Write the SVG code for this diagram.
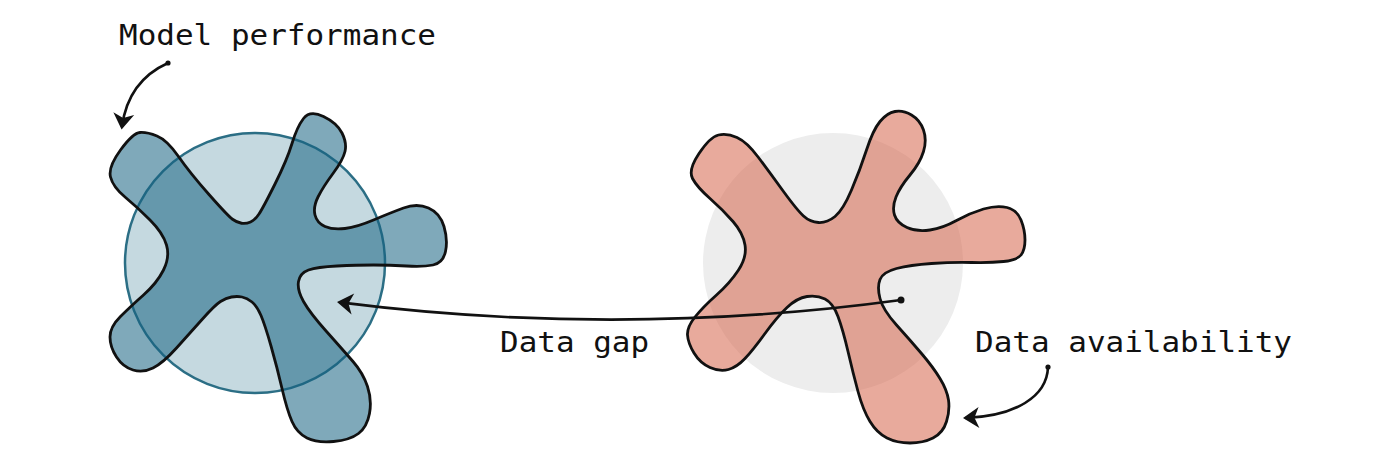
<svg xmlns="http://www.w3.org/2000/svg" width="1400" height="467" viewBox="0 0 1400 467">
<defs>
<style>
.lbl{font-family:"DejaVu Sans Mono","Liberation Mono",monospace;font-size:28px;fill:#111}
.outline{stroke:#111;stroke-width:2.8;stroke-linejoin:round}
.conn{fill:none;stroke:#111;stroke-width:2.6;stroke-linecap:round}
.cap{fill:#111}
</style>
<marker id="ah" viewBox="-17 -12 20 24" markerWidth="20" markerHeight="24" refX="-3" refY="0" orient="auto" markerUnits="userSpaceOnUse">
<path d="M0,0 L-16,-10.5 L-11.5,0 L-16,10.5 Z" fill="#111"/>
</marker>
</defs>
<rect width="1400" height="467" fill="#fff"/>
<g id="model-performance">
<circle cx="255" cy="263" r="130" fill="#c5d9e0" stroke="#2b6e85" stroke-width="2.5"/>
<path class="outline" fill="#156282" fill-opacity="0.55" d="M120.5,150 Q133,133 140,132.5 Q147,132 157,136 Q167,140 178.5,156.5 Q190,173 209,194.5 Q228,216 232.5,219.25 Q237,222.5 241.5,223.25 Q246,224 250.5,222 Q255,220 259,214 Q263,208 275,184 Q287,160 292,143.5 Q297,127 303.5,118.5 Q310,110 323.5,116.5 Q337,123 342,133 Q347,143 345,151.5 Q343,160 333,173.5 Q323,187 318,197 Q313,207 315,215 Q317,223 325,226.5 Q333,230 345,228.5 Q357,227 373.5,220 Q390,213 403.5,208 Q417,203 428.5,208 Q440,213 444,226.5 Q448,240 445.5,251.5 Q443,263 433,265 Q423,267 406.5,266 Q390,265 373.5,265 Q357,265 337,266 Q317,267 308.5,270 Q300,273 298.5,281.5 Q297,290 303.5,301.5 Q310,313 326.5,331.5 Q343,350 353,361.5 Q363,373 367.5,386.5 Q372,400 369.5,413.5 Q367,427 358.5,433.5 Q350,440 333.5,441.5 Q317,443 307,438 Q297,433 292,421.5 Q287,410 282,388.5 Q277,367 271,346 Q265,325 261,315.5 Q257,306 252,302 Q247,298 242,297 Q237,296 231.5,297 Q226,298 220.5,301.5 Q215,305 202.5,319 Q190,333 176.5,348 Q163,363 153,368 Q143,373 133,370 Q123,367 116.5,357 Q110,347 110,337 Q110,327 120,317 Q130,307 143.5,295 Q157,283 163.5,270 Q170,257 166.5,245 Q163,233 150,220 Q137,207 125,197 Q113,187 110.5,177 Q108,167 120.5,150 Z"/>
</g>
<g id="data-availability">
<circle cx="833" cy="263" r="130" fill="#ededed"/>
<path class="outline" fill="#d5644b" fill-opacity="0.55" d="M699,153.5 Q710,137 718.5,135 Q727,133 737,137.5 Q747,142 758.5,157.5 Q770,173 783.5,191.5 Q797,210 803.5,216 Q810,222 818.5,222.5 Q827,223 835,216.5 Q843,210 851.5,190 Q860,170 866.5,150 Q873,130 880,121.5 Q887,113 895,111.5 Q903,110 911.5,115 Q920,120 923.5,130 Q927,140 923.5,151.5 Q920,163 910,175 Q900,187 896,197 Q892,207 894.5,215 Q897,223 907,227.5 Q917,232 930,230 Q943,228 956.5,220.5 Q970,213 983.5,209 Q997,205 1007,207.5 Q1017,210 1021,220 Q1025,230 1025,240 Q1025,250 1021,255 Q1017,260 1003.5,261.5 Q990,263 971.5,262.5 Q953,262 931.5,263.5 Q910,265 896.5,268.5 Q883,272 880,279.5 Q877,287 880,298.5 Q883,310 896.5,325 Q910,340 921.5,353.5 Q933,367 940,378.5 Q947,390 948.5,400 Q950,410 946.5,421.5 Q943,433 933,438 Q923,443 910,443 Q897,443 887,438 Q877,433 870,421.5 Q863,410 858,391.5 Q853,373 848,351.5 Q843,330 838,316.5 Q833,303 825,299 Q817,295 807,296.5 Q797,298 787,307.5 Q777,317 765,333.5 Q753,350 745,358.5 Q737,367 728.5,369.5 Q720,372 710,367.5 Q700,363 694,353 Q688,343 687.5,335 Q687,327 695,317 Q703,307 716.5,295 Q730,283 738.5,270 Q747,257 745,245 Q743,233 733,221.5 Q723,210 710,198.5 Q697,187 692.5,178.5 Q688,170 699,153.5 Z"/>
</g>
<g id="connectors">
<path class="conn" d="M901,300 Q620,338 340,302.4" marker-end="url(#ah)"/>
<circle class="cap" cx="901" cy="300" r="3.5"/>
<path class="conn" stroke-width="3" d="M168,63 C148,72 127,90 122,126.5" marker-end="url(#ah)"/>
<circle class="cap" cx="168" cy="63" r="2.6"/>
<path class="conn" stroke-width="3" d="M1048,367 C1047,397 1015,416 966,418" marker-end="url(#ah)"/>
<circle class="cap" cx="1048" cy="367" r="2.6"/>
</g>
<g id="labels">
<text class="lbl" x="119" y="45" textLength="317" lengthAdjust="spacingAndGlyphs">Model performance</text>
<text class="lbl" x="500" y="352" textLength="149" lengthAdjust="spacingAndGlyphs">Data gap</text>
<text class="lbl" x="975" y="352" textLength="317" lengthAdjust="spacingAndGlyphs">Data availability</text>
</g>
</svg>
